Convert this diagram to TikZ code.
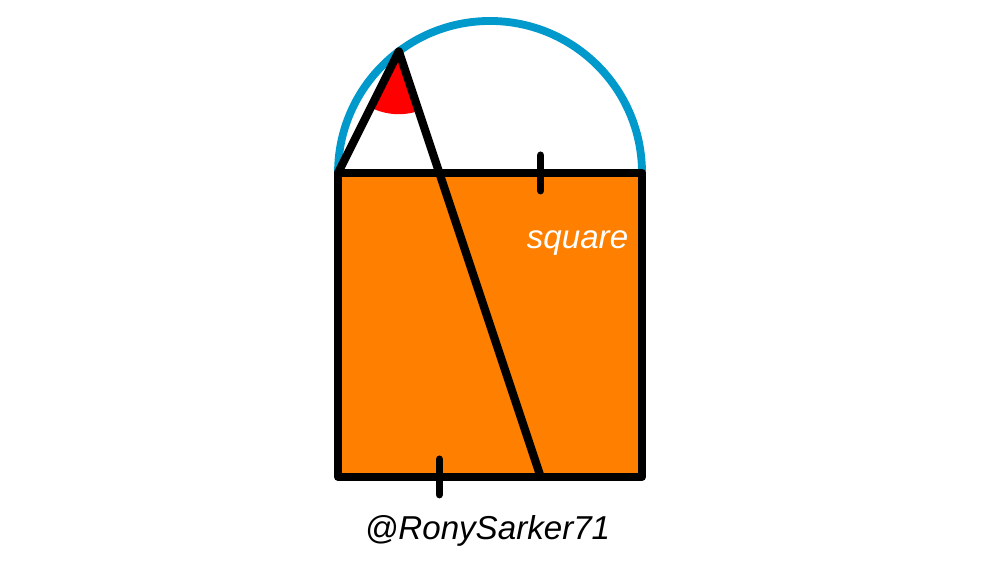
\documentclass[tikz,border=0pt]{standalone}
\usepackage{fontspec}
\setmainfont{Liberation Sans}
\usetikzlibrary{calc}
\definecolor{sqorange}{RGB}{255,128,0}
\definecolor{arcblue}{RGB}{0,153,204}
\definecolor{angred}{RGB}{255,0,0}
\tikzset{
  edge/.style={line width=2.3pt, line cap=round, line join=round, black},
  tick/.style={line width=2.1pt, line cap=round, black},
  arcline/.style={line width=2.2pt, arcblue},
  lbl/.style={font=\fontsize{9.3}{11}\selectfont\itshape, anchor=base, inner sep=0pt}
}
\begin{document}
\begin{tikzpicture}
\useasboundingbox (-3.336,-0.839) rectangle (6.533,4.707);
\coordinate (A) at (0,0);
\coordinate (B) at (3,0);
\coordinate (C) at (3,3);
\coordinate (D) at (0,3);
\coordinate (P) at (0.6,4.2);
\coordinate (E) at (2,0);
\coordinate (T1) at (2,3);
\coordinate (T2) at (1,0);
% square fill
\fill[sqorange] (A) rectangle (C);
% semicircle
\draw[arcline] (C) arc[start angle=0, end angle=180, radius=1.5];
% angle mark
\fill[angred] (P) -- ++(243.43:0.62) arc[start angle=243.43, end angle=288.43, radius=0.62] -- cycle;
% square outline
\draw[edge] (A) -- (B) -- (C) -- (D) -- cycle;
% triangle lines
\draw[edge] (D) -- (P) -- (E);
% ticks
\draw[tick] ($(T1)+(0,0.175)$) -- ($(T1)+(0,-0.175)$);
\draw[tick] ($(T2)+(0,0.175)$) -- ($(T2)+(0,-0.175)$);
% labels
\node[lbl, text=white] (sq) at (2.364,2.25) {square};
\node[lbl, text=black] (sig) at (1.475,-0.62) {@RonySarker71};
\end{tikzpicture}
\end{document}
